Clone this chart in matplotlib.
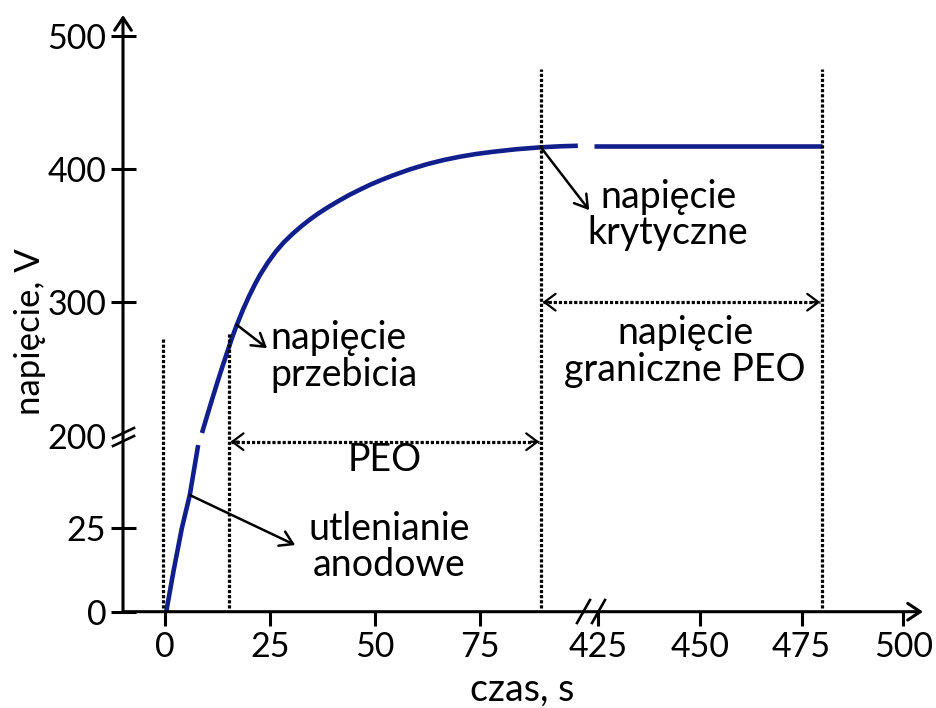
import numpy as np
import matplotlib
matplotlib.use("Agg")
import matplotlib.pyplot as plt
from matplotlib.lines import Line2D

plt.rcParams["font.family"] = ["Lato", "DejaVu Sans"]

# Axis ticks
x_ticks = [0, 25, 50, 75, 425, 450, 475, 500]
y_ticks = [0, 25, 200, 300, 400, 500]

# Voltage-time curve, split where the axes are broken
t_anodic = [0.3, 2.0, 4.0, 5.9, 7.9]
u_anodic = [0, 12, 25, 35, 50]
t_peo = [8.8, 10.0, 11.2, 12.4, 13.6, 14.8, 16.0, 17.1, 18.6, 20.0, 21.4, 22.6,
         24.5, 26.4, 28.3, 30.5, 32.6, 34.5, 36.4, 38.6, 41.2, 43.8, 46.4, 49.0,
         51.7, 54.3, 58.3, 62.4, 66.2, 70.2, 74.0, 78.1, 83.6, 89.3, 94.0, 98.3]
u_peo = [201.9, 214.5, 227.0, 239.2, 251.0, 262.4, 273.6, 283.0, 294.6, 304.4,
         313.3, 320.3, 329.8, 338.0, 344.9, 351.6, 357.3, 362.0, 366.3, 370.8,
         375.7, 380.3, 384.4, 388.3, 391.9, 395.1, 399.6, 403.5, 406.5, 409.1,
         411.1, 412.8, 414.7, 416.1, 416.9, 417.3]
t_limit = [424, 480]
u_limit = [417, 417]

# Characteristic times
t_start, t_breakdown, t_critical, t_end = -0.5, 15.2, 89.5, 480

# Broken time axis: 0..101 s and 423..560 s laid side by side
X_T = [-60, 101, 423, 560]
X_P = [165 - 60 * 4.2, 165 + 101 * 4.2, 598 - 2 * 4.07, 598 + 135 * 4.07]

# Broken voltage axis: 0..52.5 V stretched, 200..700 V compressed
Y_V = [-100, 52.5, 200, 700]
Y_H = [-333.3, 175.0, 176.2, 176.2 + 500 * 1.3333]


def fx(t):
    return np.interp(t, X_T, X_P)


def fx_inv(p):
    return np.interp(p, X_P, X_T)


def fy(v):
    return np.interp(v, Y_V, Y_H)


def fy_inv(h):
    return np.interp(h, Y_H, Y_V)


W, H = 936, 708
fig = plt.figure(figsize=(W / 100, H / 100), dpi=100)
ax = fig.add_axes([123 / W, 1 - 611.7 / H, 800 / W, (611.7 - 15) / H])

ax.set_xscale("function", functions=(fx, fx_inv))
ax.set_yscale("function", functions=(fy, fy_inv))
ax.set_xlim(fx_inv(123), fx_inv(923))
ax.set_ylim(0, fy_inv(611.7 - 15))

for s in ax.spines.values():
    s.set_visible(False)

FS_TICK = 24.5
FS = 27
ax.set_xticks(x_ticks)
ax.set_xticklabels([str(v) for v in x_ticks])
ax.set_yticks(y_ticks)
ax.set_yticklabels([str(v) for v in y_ticks])
ax.minorticks_off()
ax.tick_params(axis="x", direction="out", length=10, width=2.2, pad=4, labelsize=FS_TICK)
ax.tick_params(axis="y", direction="inout", length=18, width=2.2, pad=3, labelsize=FS_TICK)
# the 200 V position carries the break mark instead of a tick
ax.yaxis.get_major_ticks()[2].tick1line.set_visible(False)

# Axis lines with open arrow heads
arrow_axis = dict(arrowstyle="->,head_length=0.45,head_width=0.3", lw=2.2,
                  color="black", shrinkA=0, shrinkB=0, mutation_scale=20)
ax.annotate("", xy=(1, 0), xytext=(0, 0), xycoords="axes fraction",
            arrowprops=arrow_axis, annotation_clip=False)
ax.annotate("", xy=(0, 1), xytext=(0, 0), xycoords="axes fraction",
            arrowprops=arrow_axis, annotation_clip=False)

# Curve
blue = "#111f8c"
for t, u in [(t_anodic, u_anodic), (t_peo, u_peo), (t_limit, u_limit)]:
    ax.plot(t, u, color=blue, lw=3.3, solid_capstyle="butt",
            solid_joinstyle="round", clip_on=False)

# Dotted guide lines
dot = dict(color="black", lw=2.3, linestyle=(0, (1, 0.6)), clip_on=False)
ax.plot([t_start, t_start], [1, 273], **dot)
ax.plot([t_breakdown, t_breakdown], [1, 277], **dot)
ax.plot([t_critical, t_critical], [1, 475], **dot)
ax.plot([t_end, t_end], [1, 475], **dot)


def dotted_span(t0, t1, v):
    ax.plot([t0 + 0.4, t1 - 0.4], [v, v], **dot)
    head = dict(arrowstyle="->,head_length=0.4,head_width=0.3", lw=1.6,
                color="black", shrinkA=0, shrinkB=0, mutation_scale=20)
    ax.annotate("", xy=(t0 + 0.4, v), xytext=(6, 0), textcoords="offset points",
                arrowprops=head)
    ax.annotate("", xy=(t1 - 0.4, v), xytext=(-6, 0), textcoords="offset points",
                arrowprops=head)


dotted_span(t_breakdown, t_critical, 51)
dotted_span(t_critical, t_end, 300)

# Annotation arrows
pointer = dict(arrowstyle="->,head_length=0.45,head_width=0.28", lw=1.8,
               color="black", shrinkA=0, shrinkB=0, mutation_scale=20)
ax.annotate("", xy=(24.3, 265.5), xytext=(17.1, 283.0), arrowprops=pointer)
ax.annotate("", xy=(101, 369), xytext=(89.5, 416.1), arrowprops=pointer)
ax.annotate("", xy=(31, 20), xytext=(5.9, 35), arrowprops=pointer)

# Labels
txt = dict(fontsize=FS, color="black", linespacing=1.03)
ax.text(25.2, 259, "napięcie\nprzebicia", ha="left", va="center", **txt)
ax.text(442.2, 365.4, "napięcie\nkrytyczne", ha="center", va="center", multialignment="center", **txt)
ax.text(446.4, 263, "napięcie\ngraniczne PEO", ha="center", va="center", multialignment="center", **txt)
ax.text(52.4, 45.5, "PEO", ha="center", va="center", **txt)
ax.text(53.3, 19.4, "utlenianie\nanodowe", ha="center", va="center", multialignment="center", **txt)

fig.text(30 / W, 1 - 332 / H, "napięcie, V", rotation=90, ha="center", va="center", fontsize=25)
fig.text(522 / W, 1 - 690 / H, "czas, s", ha="center", va="center", fontsize=FS)


# Axis break marks
def seg(x0, y0, x1, y1):
    fig.add_artist(Line2D([x0 / W, x1 / W], [1 - y0 / H, 1 - y1 / H],
                          color="black", lw=1.9, transform=fig.transFigure))


seg(113, 438, 134, 428)
seg(113, 446, 134, 436)
seg(577, 623, 590, 600)
seg(592, 623, 605, 600)

fig.savefig("out.png", dpi=100)
